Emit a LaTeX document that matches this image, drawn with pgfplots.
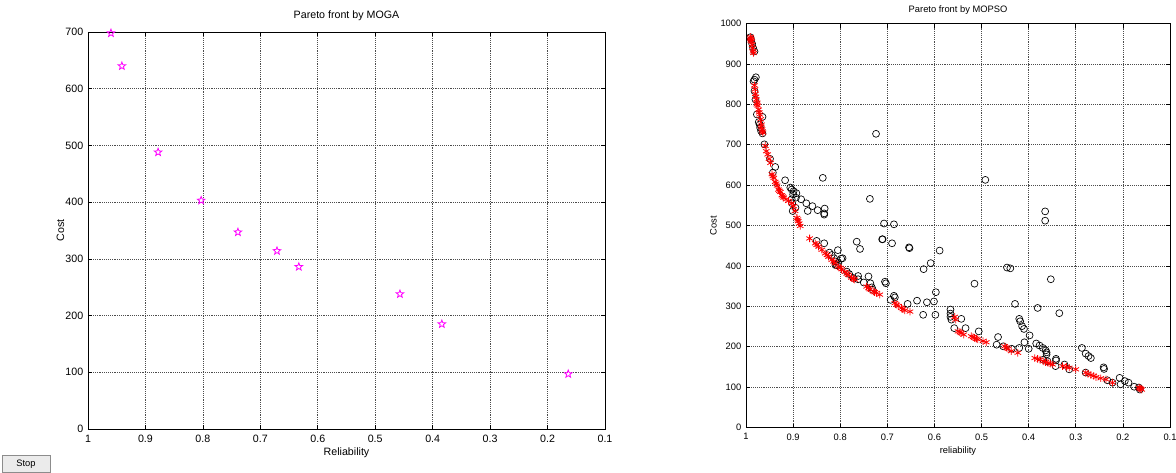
\documentclass[border=0pt]{standalone}
\usepackage{fontspec}
\setmainfont{Liberation Sans}
\usepackage{pgfplots}
\pgfplotsset{compat=1.18}

\definecolor{mgnt}{rgb}{1,0,1}
\definecolor{mred}{rgb}{1,0,0}

% MATLAB-style pentagram marker
\pgfdeclareplotmark{pentagram}{%
  \pgfpathmoveto{\pgfpointpolar{90}{\pgfplotmarksize}}%
  \pgfpathlineto{\pgfpointpolar{126}{0.42\pgfplotmarksize}}%
  \pgfpathlineto{\pgfpointpolar{162}{\pgfplotmarksize}}%
  \pgfpathlineto{\pgfpointpolar{198}{0.42\pgfplotmarksize}}%
  \pgfpathlineto{\pgfpointpolar{234}{\pgfplotmarksize}}%
  \pgfpathlineto{\pgfpointpolar{270}{0.42\pgfplotmarksize}}%
  \pgfpathlineto{\pgfpointpolar{306}{\pgfplotmarksize}}%
  \pgfpathlineto{\pgfpointpolar{342}{0.42\pgfplotmarksize}}%
  \pgfpathlineto{\pgfpointpolar{18}{\pgfplotmarksize}}%
  \pgfpathlineto{\pgfpointpolar{54}{0.42\pgfplotmarksize}}%
  \pgfpathclose
  \pgfusepathqstroke
}

\pgfplotsset{
  mlab/.style={
    scale only axis, anchor=south west,
    x dir=reverse, xmin=0.1, xmax=1,
    xtick={0.1,0.2,0.3,0.4,0.5,0.6,0.7,0.8,0.9,1},
    grid=major,
    grid style={densely dotted, black!70, line width=0.45pt},
    tick align=inside, major tick length=3pt,
    tick style={black, line width=0.5pt},
    axis line style={black, line width=0.7pt},
    /pgf/number format/assume math mode=true,
    /pgf/number format/1000 sep={},
    title style={font=\fontsize{8}{9}\selectfont},
    label style={font=\fontsize{8}{9}\selectfont},
    tick label style={font=\fontsize{8}{9}\selectfont, black},
    xticklabel style={yshift=-1pt},
  }
}

\begin{document}
\begin{tikzpicture}
\path[use as bounding box] (0,0) rectangle (882pt,354.75pt);

% ---------- left: MOGA ----------
\begin{axis}[mlab,
  at={(66pt,33pt)}, width=387.75pt, height=297.75pt,
  ymin=0, ymax=700, ytick={0,100,...,700},
  title={Pareto front by MOGA}, title style={yshift=-1pt},
  xlabel={Reliability}, ylabel={Cost},
  xlabel style={yshift=3pt}, ylabel style={yshift=-6pt},
]
\addplot[only marks, mark=pentagram, mark size=3pt, color=mgnt, line width=0.6pt]
  coordinates {
  (0.960,698) (0.941,640) (0.878,488) (0.803,403) (0.739,347)
  (0.671,314) (0.633,286) (0.457,238) (0.384,185) (0.164,97)
};
\end{axis}

% ---------- right: MOPSO ----------
\begin{axis}[mlab,
  at={(559.5pt,34.1pt)}, width=318pt, height=303pt,
  ymin=0, ymax=1000, ytick={0,100,...,1000},
  title={Pareto front by MOPSO}, title style={yshift=-3pt, font=\fontsize{7}{8}\selectfont},
  xlabel={reliability}, ylabel={Cost},
  label style={font=\fontsize{7}{8}\selectfont},
  tick label style={font=\fontsize{7}{8}\selectfont},
  xlabel style={yshift=2pt}, ylabel style={yshift=-4pt},
]
\addplot[only marks, mark=o, mark size=2.6pt, black, line width=0.5pt]
  coordinates {
  (0.991,966) (0.989,960) (0.987,950) (0.985,940) (0.982,931)
  (0.984,857) (0.982,861) (0.979,867) (0.982,833) (0.980,812)
  (0.977,775) (0.973,756) (0.971,750) (0.965,769) (0.970,742)
  (0.968,734) (0.965,728) (0.961,701) (0.949,665) (0.938,645)
  (0.943,631) (0.917,612) (0.906,594) (0.903,589) (0.899,585)
  (0.900,577) (0.893,580) (0.894,569) (0.903,565) (0.902,555)
  (0.895,544) (0.901,536) (0.883,565) (0.872,555) (0.869,536)
  (0.859,548) (0.848,538) (0.837,618) (0.834,530) (0.834,527)
  (0.833,542) (0.737,566) (0.724,727) (0.707,505) (0.686,503)
  (0.711,466) (0.492,613) (0.365,535) (0.365,512)
  (0.850,462) (0.834,456) (0.765,460) (0.758,442) (0.805,439)
  (0.823,433) (0.818,427) (0.813,419) (0.810,411) (0.810,402)
  (0.795,419) (0.807,402) (0.804,407) (0.798,418) (0.786,386)
  (0.781,380) (0.772,370) (0.762,375) (0.762,367) (0.750,359)
  (0.740,374) (0.736,357) (0.733,347) (0.731,341)
  (0.710,466) (0.690,456) (0.654,446) (0.653,444) (0.589,438)
  (0.608,407) (0.623,392) (0.597,335) (0.601,312) (0.616,310)
  (0.637,314) (0.657,306) (0.624,279) (0.598,279)
  (0.686,326) (0.684,322) (0.693,316) (0.705,361) (0.703,357)
  (0.515,356) (0.566,292) (0.566,282) (0.566,274) (0.564,267)
  (0.558,246) (0.543,269) (0.534,246) (0.506,238)
  (0.465,224) (0.468,205) (0.454,201) (0.446,396) (0.439,394)
  (0.436,195) (0.429,306) (0.420,269) (0.418,263) (0.414,251)
  (0.410,244) (0.409,211) (0.420,197) (0.400,195) (0.398,228)
  (0.381,296) (0.353,367) (0.335,283)
  (0.384,208) (0.377,203) (0.370,197) (0.364,191) (0.362,186)
  (0.362,181) (0.369,168) (0.360,164) (0.342,170) (0.342,166)
  (0.343,152) (0.324,156) (0.314,144)
  (0.287,197) (0.279,183) (0.273,177) (0.268,172) (0.279,136)
  (0.241,149) (0.240,145) (0.233,117) (0.222,111) (0.207,123)
  (0.205,107) (0.196,115) (0.188,111) (0.176,101) (0.166,99)
  (0.164,94)
};
\addplot[only marks, mark=asterisk, mark size=2.8pt, mred, line width=0.6pt]
  coordinates {
  (0.990,967) (0.989,962) (0.988,956) (0.987,948) (0.986,939)
  (0.985,931) (0.984,927) (0.991,963) (0.990,958)
  (0.982,847) (0.981,837) (0.980,826) (0.979,819) (0.978,812)
  (0.976,804) (0.975,797) (0.973,787) (0.971,775) (0.969,763)
  (0.967,750) (0.966,738) (0.964,730) (0.977,800) (0.972,780)
  (0.968,745) (0.965,733)
  (0.959,697) (0.957,684) (0.954,676) (0.951,665) (0.948,655)
  (0.945,627) (0.941,618) (0.938,608) (0.934,599) (0.931,589)
  (0.927,583) (0.924,575) (0.920,569) (0.943,622) (0.936,604)
  (0.929,586) (0.922,572)
  (0.915,565) (0.910,561) (0.903,555)
  (0.899,548) (0.896,536) (0.892,519) (0.889,511) (0.885,499)
  (0.890,515) (0.887,505)
  (0.865,468) (0.853,456) (0.846,448) (0.839,440) (0.832,431)
  (0.825,423) (0.818,415) (0.811,407) (0.804,398) (0.797,392)
  (0.790,385) (0.783,378) (0.776,371) (0.769,366)
  (0.850,452) (0.828,427) (0.814,411) (0.800,395) (0.786,381)
  (0.772,368)
  (0.744,349) (0.737,342) (0.730,337) (0.723,333) (0.716,329)
  (0.740,345) (0.727,335)
  (0.684,308) (0.677,301) (0.670,296) (0.663,290) (0.652,287)
  (0.680,304) (0.667,293)
  (0.557,274) (0.555,267)
  (0.550,238) (0.543,234) (0.538,230) (0.546,236)
  (0.522,226) (0.515,222) (0.508,218) (0.497,214) (0.490,211)
  (0.518,224) (0.511,220)
  (0.451,201) (0.444,195) (0.437,189) (0.423,185) (0.447,198)
  (0.387,172) (0.376,168) (0.369,164) (0.359,160) (0.349,156)
  (0.381,170) (0.364,162) (0.354,158)
  (0.328,152) (0.314,148) (0.300,144) (0.320,150)
  (0.279,136) (0.268,130) (0.257,125) (0.247,122) (0.236,119)
  (0.222,111) (0.274,133) (0.262,128)
  (0.166,99) (0.162,96) (0.160,94) (0.164,97)
};
\end{axis}

% Stop button of the figure window
\draw[black!45, fill=black!8] (1.5pt,0.4pt) rectangle (37.5pt,13.5pt);
\node[font=\fontsize{7}{8}\selectfont] at (19.5pt,6.9pt) {Stop};
\end{tikzpicture}
\end{document}
